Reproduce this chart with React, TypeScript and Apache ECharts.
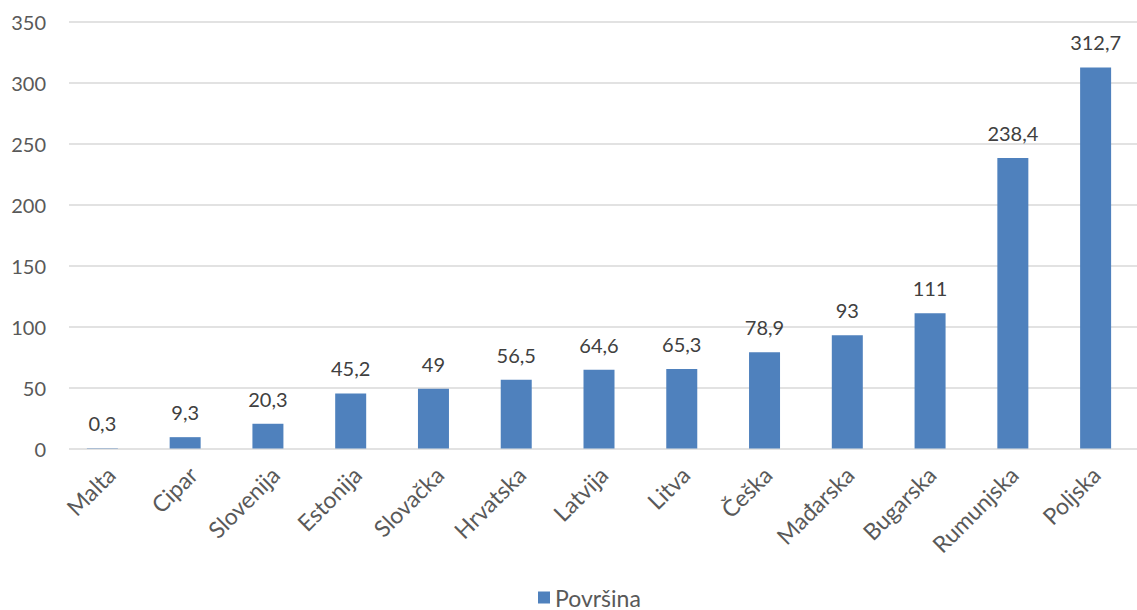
import React, { useEffect, useRef } from "react";
import * as echarts from "echarts";

const categories = ["Malta", "Cipar", "Slovenija", "Estonija", "Slovačka", "Hrvatska", "Latvija", "Litva", "Češka", "Mađarska", "Bugarska", "Rumunjska", "Poljska"];
const values = [0.3, 9.3, 20.3, 45.2, 49, 56.5, 64.6, 65.3, 78.9, 93, 111, 238.4, 312.7];
const seriesName = "Površina";
const yTicks = [0, 50, 100, 150, 200, 250, 300, 350];

const FONT = "Lato, 'Open Sans', sans-serif";

export default function App() {
  const ref = useRef<HTMLDivElement>(null);
  useEffect(() => {
    if (!ref.current) return;
    const chart = echarts.init(ref.current, undefined, { renderer: "svg" });
    const yMin = yTicks[0];
    const yMax = yTicks[yTicks.length - 1];
    const yInterval = yTicks[1] - yTicks[0];
    chart.setOption({
      animation: false,
      backgroundColor: "#ffffff",
      textStyle: { fontFamily: FONT },
      grid: [
        { left: 69, right: 0, top: 22, bottom: 161.5, containLabel: false },
        { left: 61, right: -3, top: 22, bottom: 161.5, containLabel: false },
        { left: 70, right: -12, top: 22, bottom: 161.5, containLabel: false },
      ],
      legend: {
        bottom: 1,
        left: 538,
        itemWidth: 12,
        itemHeight: 12,
        icon: "rect",
        padding: 0,
        textStyle: { color: "#595959", fontSize: 23, fontFamily: FONT },
        data: [seriesName],
      },
      xAxis: [
        { type: "category", gridIndex: 0, data: categories, show: false },
        {
          type: "category",
          gridIndex: 1,
          data: categories,
          axisLine: { show: false },
          axisTick: { show: false },
          axisLabel: { show: false },
        },
        {
          type: "category",
          gridIndex: 2,
          data: categories,
          axisLine: { show: false },
          axisTick: { show: false },
          axisLabel: {
            rotate: 45,
            interval: 0,
            margin: 22,
            color: "#595959",
            fontSize: 23,
            fontFamily: FONT,
          },
        },
      ],
      yAxis: [
        {
          type: "value",
          gridIndex: 0,
          min: yMin,
          max: yMax,
          interval: yInterval,
          axisLine: { show: false },
          axisTick: { show: false },
          axisLabel: { color: "#595959", fontSize: 20, margin: 23, fontFamily: FONT },
          splitLine: { show: true, lineStyle: { color: "#D9D9D9", width: 1.5 } },
        },
        { type: "value", gridIndex: 1, min: yMin, max: yMax, interval: yInterval, show: false, splitLine: { show: false } },
        { type: "value", gridIndex: 2, min: yMin, max: yMax, interval: yInterval, show: false, splitLine: { show: false } },
      ],
      series: [
        {
          name: seriesName,
          type: "bar",
          xAxisIndex: 1,
          yAxisIndex: 1,
          data: values,
          barWidth: 31,
          itemStyle: { color: "#4F81BD" },
          label: {
            show: true,
            position: "top",
            distance: 15,
            color: "#404040",
            fontSize: 20,
            fontFamily: FONT,
            formatter: (p: any) => String(p.value).replace(".", ","),
          },
        },
      ],
    });
    return () => chart.dispose();
  }, []);
  return (
    <div
      ref={ref}
      style={{ position: "absolute", left: 0, top: 0, width: 1137, height: 610 }}
    />
  );
}
